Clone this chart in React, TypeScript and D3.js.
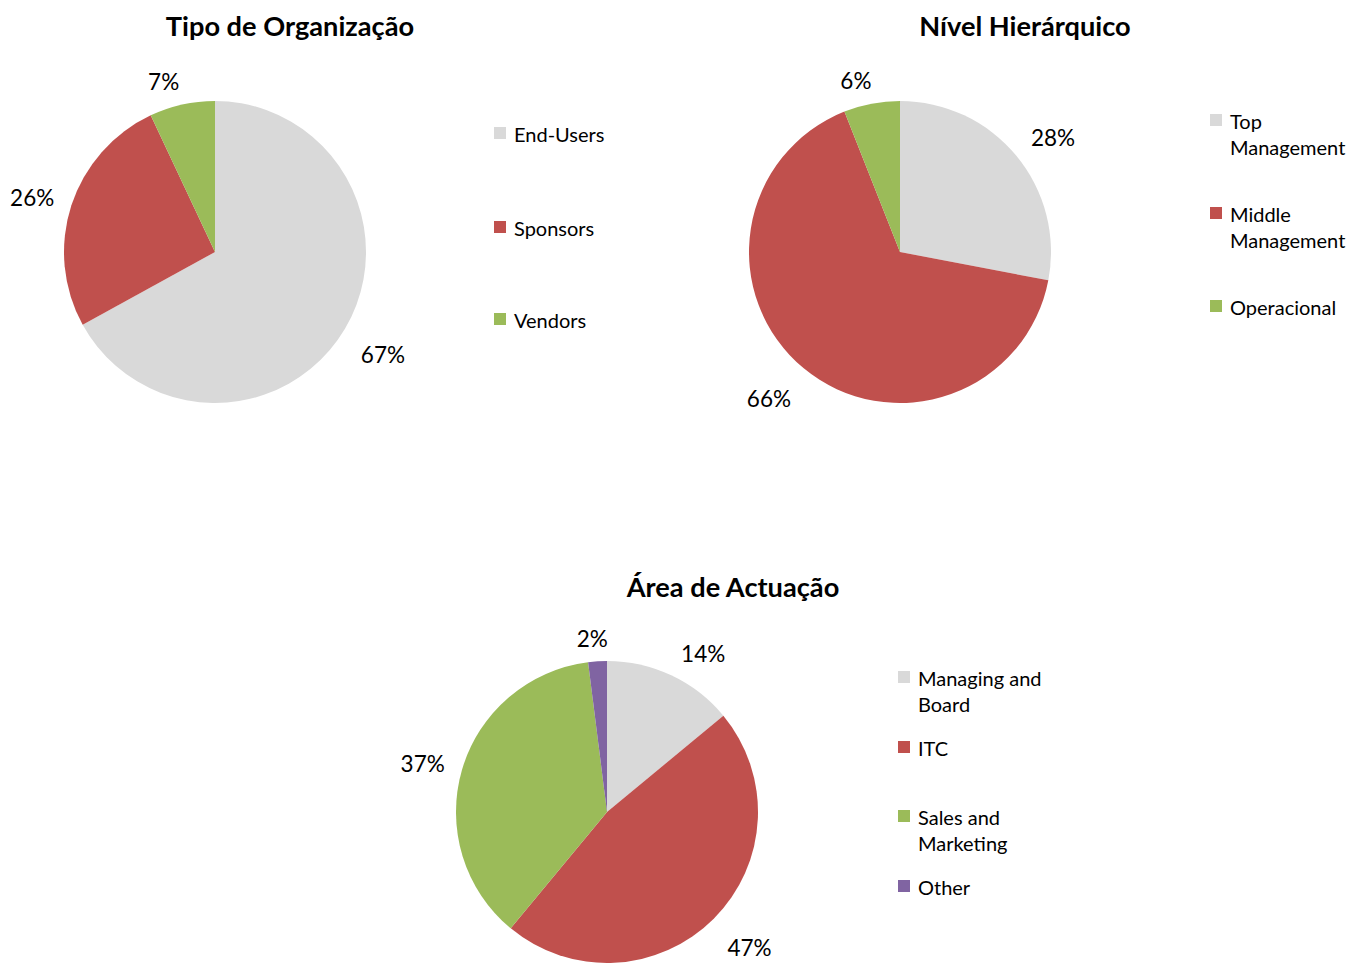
import React from "react";
import * as d3 from "d3";

const COLORS = ["#D9D9D9", "#C0504D", "#9BBB59", "#8064A2"];

const orgTitle = "Tipo de Organização";
const orgCategories = ["End-Users", "Sponsors", "Vendors"];
const orgValues = [67, 26, 7];

const nivelTitle = "Nível Hierárquico";
const nivelCategories = ["Top Management", "Middle Management", "Operacional"];
const nivelValues = [28, 66, 6];

const areaTitle = "Área de Actuação";
const areaCategories = ["Managing and Board", "ITC", "Sales and Marketing", "Other"];
const areaValues = [14, 47, 37, 2];

const FONT = "Lato, 'Open Sans', sans-serif";

type LegendRow = { lines: string[]; y: number };

function Pie({
  title, titleX, titleY, cx, cy, r, values, categories, legendX, legendRows,
}: {
  title: string; titleX: number; titleY: number; cx: number; cy: number; r: number;
  values: number[]; categories: string[]; legendX: number; legendRows: LegendRow[];
}) {
  const pie = d3.pie<number>().sort(null).value((d) => d)(values);
  const arc = d3.arc<d3.PieArcDatum<number>>().innerRadius(0).outerRadius(r);
  return (
    <g>
      <text x={titleX} y={titleY} textAnchor="middle" fontFamily={FONT} fontWeight="bold" fontSize={27.2} fill="#000">
        {title}
      </text>
      <g transform={`translate(${cx},${cy})`}>
        {pie.map((p, i) => (
          <path key={i} d={arc(p) || ""} fill={COLORS[i]} />
        ))}
        {pie.map((p, i) => {
          const a = (p.startAngle + p.endAngle) / 2;
          const s = Math.sin(a), c = -Math.cos(a);
          const label = `${values[i]}%`;
          const hw = label.length * 8.3 + 1, hh = 14;
          const g = r + 14;
          const px = g * s, py = g * c;
          const sx = Math.max(-1, Math.min(1, s * 4));
          const sy = Math.max(-1, Math.min(1, c * 2));
          const x = px + sx * hw;
          const y = py + sy * hh + 5;
          return (
            <text key={"l" + i} x={x} y={y} textAnchor="middle" dominantBaseline="central"
              fontFamily={FONT} fontSize={22.5} fill="#000">
              {label}
            </text>
          );
        })}
      </g>
      {legendRows.map((row, i) => (
        <g key={"lg" + i}>
          <rect x={legendX} y={row.y - 7} width={12} height={12} fill={COLORS[i]} />
          {row.lines.map((ln, j) => (
            <text key={j} x={legendX + 20} y={row.y + j * 26} dominantBaseline="central"
              fontFamily={FONT} fontSize={20} fill="#000">
              {ln}
            </text>
          ))}
        </g>
      ))}
    </g>
  );
}

export default function App() {
  return (
    <svg width={1355} height={963} style={{ position: "absolute", left: 0, top: 0, background: "#fff" }}>
      <rect width={1355} height={963} fill="#fff" />
      <Pie title={orgTitle} titleX={290} titleY={36} cx={215} cy={252} r={151}
        values={orgValues} categories={orgCategories} legendX={494}
        legendRows={[
          { lines: [orgCategories[0]], y: 134 },
          { lines: [orgCategories[1]], y: 228 },
          { lines: [orgCategories[2]], y: 320 },
        ]} />
      <Pie title={nivelTitle} titleX={1025} titleY={36} cx={900} cy={252} r={151}
        values={nivelValues} categories={nivelCategories} legendX={1210}
        legendRows={[
          { lines: ["Top", "Management"], y: 121 },
          { lines: ["Middle", "Management"], y: 214 },
          { lines: [nivelCategories[2]], y: 307 },
        ]} />
      <Pie title={areaTitle} titleX={733} titleY={597} cx={607} cy={812} r={151}
        values={areaValues} categories={areaCategories} legendX={898}
        legendRows={[
          { lines: ["Managing and", "Board"], y: 678 },
          { lines: [areaCategories[1]], y: 748 },
          { lines: ["Sales and", "Marketing"], y: 817 },
          { lines: [areaCategories[3]], y: 887 },
        ]} />
    </svg>
  );
}
